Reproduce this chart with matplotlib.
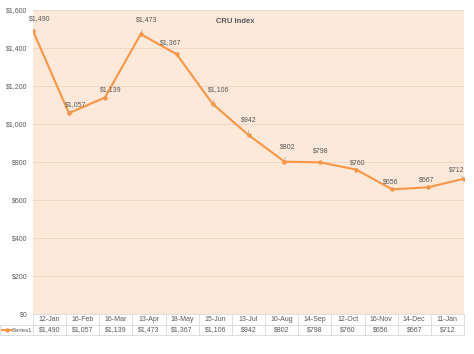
import matplotlib

matplotlib.use("Agg")
import matplotlib.pyplot as plt
from matplotlib.lines import Line2D

# ------------------------------------------------------------------ data
dates = ["12-Jan", "16-Feb", "16-Mar", "13-Apr", "18-May", "15-Jun", "13-Jul",
         "10-Aug", "14-Sep", "12-Oct", "16-Nov", "14-Dec", "11-Jan"]
values = [1490, 1057, 1139, 1473, 1367, 1106, 942, 802, 798, 760, 656, 667, 712]
series_name = "Series1"
title = "CRU Index"

# label offsets (pixels) from each point, mimics Excel's dragged labels
label_dx = [7, 7, 6, 6, -6, 6, 0, 3, 0, 1, -1, -1, -7]
label_dy = [12, 9, 8, 15, 12, 14, 15, 15, 11, 7, 7, 7, 9]

ORANGE = "#F79646"
FILL = "#FDE9D9"
GRID = "#F0D6C3"
TEXT = "#595959"
EDGE = "#D9D9D9"

plt.rcParams["font.family"] = ["Liberation Sans", "DejaVu Sans"]


def money(v):
    return f"${v:,.0f}"


fig = plt.figure(figsize=(4.74, 3.54), dpi=100)
ax = fig.add_axes([33 / 474, 40 / 354, 431 / 474, 304 / 354])
ax.set_facecolor(FILL)

x = list(range(len(values)))
ax.plot(x, values, color=ORANGE, lw=1.5, marker="o", ms=2.2, zorder=3)
ax.set_xlim(0, len(values) - 1)
ax.set_ylim(0, 1600)
ax.set_yticks(range(0, 1601, 200))
ax.set_yticklabels([money(t) for t in range(0, 1601, 200)])
ax.set_xticks([])
ax.tick_params(axis="y", length=0, labelsize=5, labelcolor=TEXT, pad=4)
ax.yaxis.grid(True, color=GRID, lw=0.7)
ax.set_axisbelow(True)
for s in ax.spines.values():
    s.set_visible(False)

ax.text(0.47, 0.962, title, transform=ax.transAxes, ha="center", va="center",
        fontsize=5.5, color=TEXT, fontweight="bold")

for xi, v, dx, dy in zip(x, values, label_dx, label_dy):
    ax.annotate(money(v), (xi, v), xytext=(dx, dy), textcoords="offset pixels",
                ha="center", va="center", fontsize=5, color=TEXT,
                arrowprops=dict(arrowstyle="-", color="#A6A6A6", lw=0.5,
                                shrinkA=3, shrinkB=1))

# -------------------------------------------------- data table below axes
n = len(values)
h = 304.0
row1 = [0, -11 / h]
row2 = [-11 / h, -21 / h]
ta = ax.transAxes
for i, (d, v) in enumerate(zip(dates, values)):
    cx = (i + 0.5) / n
    ax.text(cx, sum(row1) / 2, d, transform=ta, ha="center", va="center",
            fontsize=5, color=TEXT, clip_on=False)
    ax.text(cx, sum(row2) / 2, money(v), transform=ta, ha="center", va="center",
            fontsize=5, color=TEXT, clip_on=False)
for i in range(n + 1):
    ax.add_line(Line2D([i / n, i / n], [row1[0], row2[1]], transform=ta,
                       color=EDGE, lw=0.6, clip_on=False))
left = -33 / 431
ax.add_line(Line2D([0, 1], [0, 0], transform=ta, color=EDGE, lw=0.6, clip_on=False))
for yy in (row2[0], row2[1]):
    ax.add_line(Line2D([left, 1], [yy, yy], transform=ta, color=EDGE, lw=0.6,
                       clip_on=False))
ax.add_line(Line2D([left, left], [row2[0], row2[1]], transform=ta, color=EDGE,
                   lw=0.6, clip_on=False))

# legend key in the row header
ym = sum(row2) / 2
ax.add_line(Line2D([left + 2 / 431, left + 12 / 431], [ym, ym], transform=ta,
                   color=ORANGE, lw=1.4, clip_on=False))
ax.add_line(Line2D([left + 7 / 431], [ym], transform=ta, color=ORANGE,
                   marker="o", ms=2.2, clip_on=False))
ax.text(-1 / 431, ym, series_name, transform=ta, ha="right", va="center",
        fontsize=4.3, color=TEXT, clip_on=False)

fig.savefig("out.png", dpi=100)
